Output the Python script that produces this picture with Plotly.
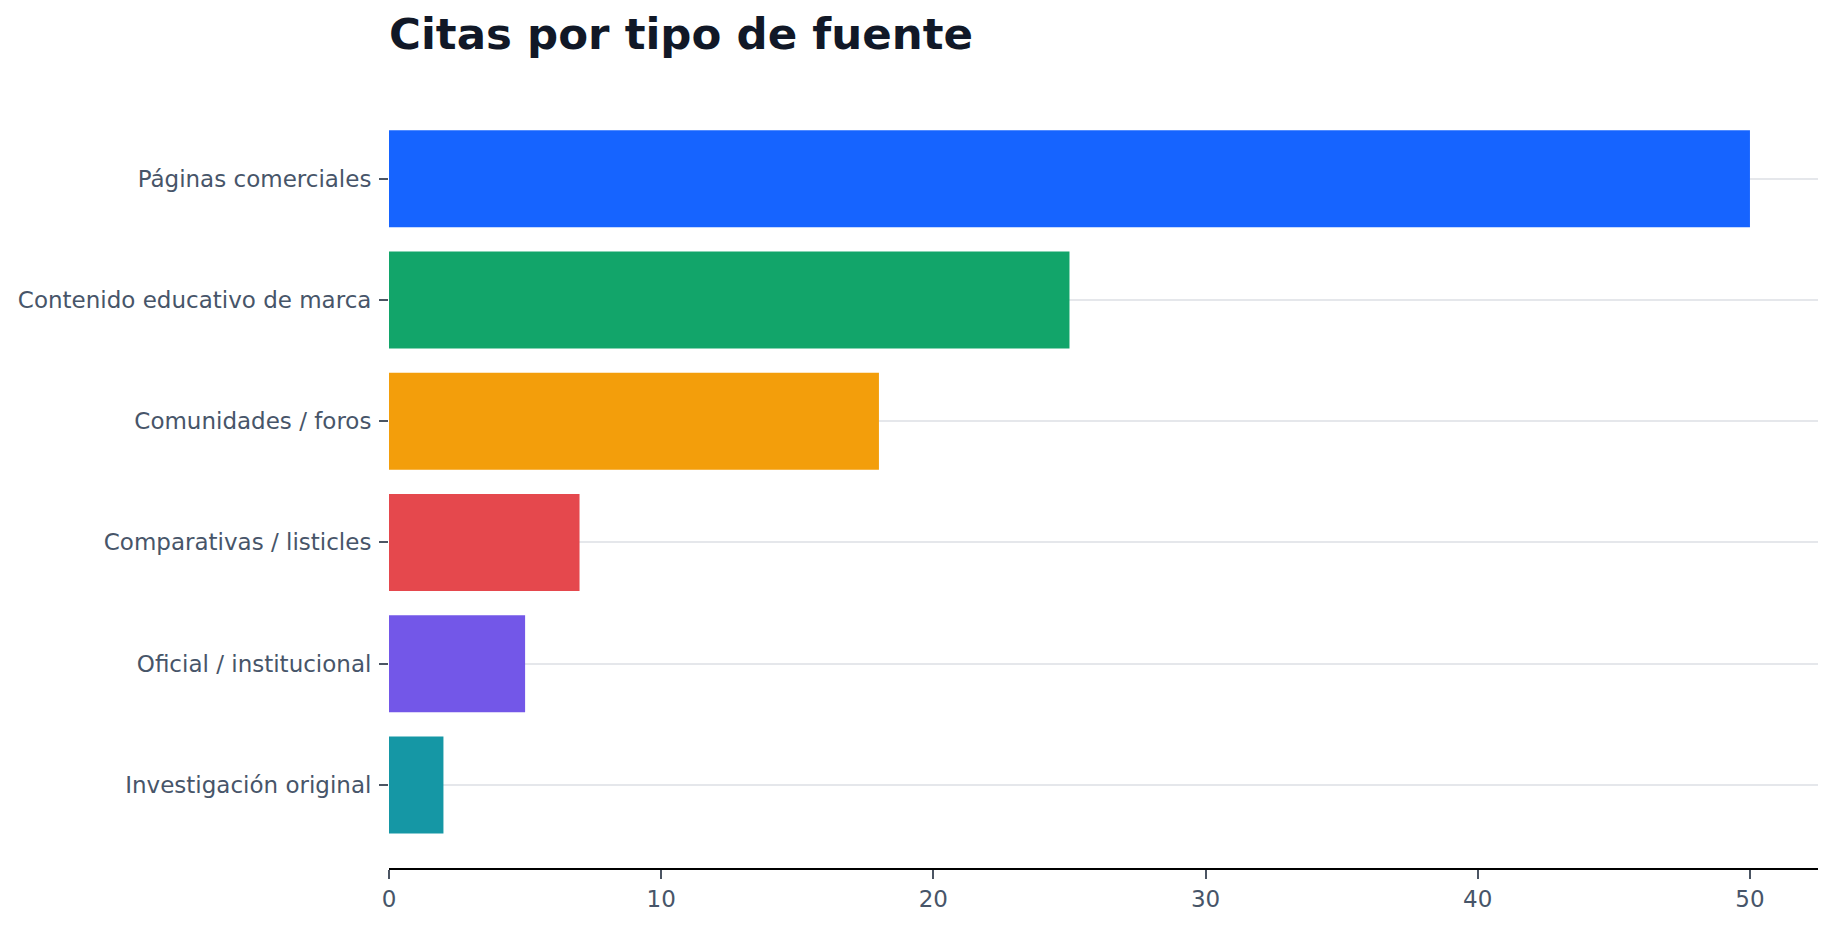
import plotly.graph_objects as go

# data
categorias = [
    "Investigación original",
    "Oficial / institucional",
    "Comparativas / listicles",
    "Comunidades / foros",
    "Contenido educativo de marca",
    "Páginas comerciales",
]
citas = [2, 5, 7, 18, 25, 50]
colores = ["#1597A5", "#7357E8", "#E5484D", "#F39E0B", "#12A56A", "#1664FF"]

x_ticks = [0, 10, 20, 30, 40, 50]

fig = go.Figure()

fig.add_trace(go.Bar(
    x=citas,
    y=categorias,
    orientation="h",
    marker=dict(color=colores, line=dict(width=0)),
    showlegend=False,
))

fig.update_layout(
    width=1835,
    height=926,
    paper_bgcolor="white",
    plot_bgcolor="white",
    font=dict(family="DejaVu Sans", size=23, color="#475569"),
    title=dict(
        text="<b>Citas por tipo de fuente</b>",
        font=dict(family="DejaVu Sans", size=43.5, color="#111827"),
        x=0, xref="paper", xanchor="left",
        y=1 - 11 / 926, yref="container", yanchor="top",
    ),
    margin=dict(l=381, r=25, t=110, b=66),
    bargap=0.2,
)

fig.update_xaxes(
    range=[0, 52.5],
    tickvals=x_ticks,
    showgrid=False,
    zeroline=False,
    showline=True,
    linecolor="black",
    linewidth=2,
    ticks="outside",
    ticklen=9,
    tickwidth=2,
    tickcolor="#4B5563",
    automargin=False,
)

fig.update_yaxes(
    range=[-0.685, 5.5],
    showgrid=True,
    gridcolor="#E5E7EB",
    gridwidth=2,
    zeroline=False,
    showline=False,
    ticks="outside",
    ticklen=9,
    tickwidth=2,
    tickcolor="#4B5563",
    ticklabelstandoff=3,
    automargin=False,
)

fig.write_html("out.html")
